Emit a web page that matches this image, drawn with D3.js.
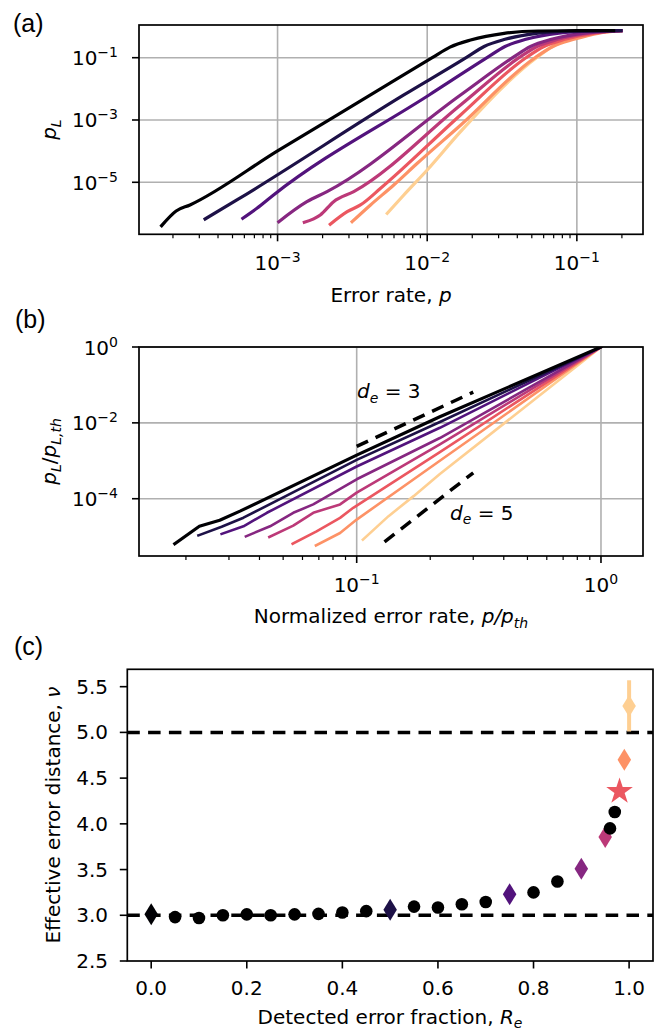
<!DOCTYPE html>
<html>
<head>
<meta charset="utf-8">
<title>Logical error rate and effective distance</title>
<script src="https://d3js.org/d3.v7.min.js"></script>
<style>
  body { margin: 0; background: #fff; }
  text { font-family: "DejaVu Sans", sans-serif; }
</style>
</head>
<body>
<script>
// (a) logical error rate p_L against error rate p, one curve per detected fraction
const aP = [
  [1.68e-4, 2.10e-4, 2.60e-4, 1.00e-3, 4.18e-3, 1.08e-2, 1.42e-2, 1.95e-2, 3.27e-2, 5.46e-2, 0.100, 0.176],
  [3.28e-4, 5.35e-4, 6.98e-3, 1.82e-2, 2.40e-2, 3.31e-2, 5.50e-2, 9.12e-2, 0.197],
  [5.86e-4, 7.28e-4, 9.40e-4, 1.03e-2, 2.51e-2, 3.31e-2, 4.57e-2, 7.59e-2, 0.126, 0.197],
  [1.02e-3, 1.57e-3, 2.14e-3, 1.67e-2, 3.72e-2, 4.90e-2, 6.76e-2, 0.112, 0.158, 0.197],
  [1.51e-3, 1.93e-3, 2.37e-3, 3.23e-3, 1.67e-2, 4.11e-2, 5.42e-2, 7.48e-2, 0.120, 0.158, 0.197],
  [2.25e-3, 2.92e-3, 3.58e-3, 4.88e-3, 1.67e-2, 4.57e-2, 6.03e-2, 8.32e-2, 0.132, 0.158, 0.197],
  [3.15e-3, 4.18e-3, 5.98e-3, 8.59e-3, 1.67e-2, 5.25e-2, 6.92e-2, 9.55e-2, 0.141, 0.158, 0.197],
  [5.41e-3, 6.98e-3, 1.00e-2, 1.67e-2, 5.37e-2, 7.08e-2, 9.55e-2, 0.141, 0.197]
];
const aPL = [
  [4.05e-7, 1.20e-6, 1.87e-6, 1.02e-4, 6.35e-3, 0.100, 0.219, 0.370, 0.605, 0.719, 0.736, 0.738],
  [6.64e-7, 2.70e-6, 6.35e-3, 0.100, 0.229, 0.389, 0.617, 0.716, 0.738],
  [6.98e-7, 1.46e-6, 3.91e-6, 6.35e-3, 0.100, 0.229, 0.389, 0.617, 0.716, 0.738],
  [5.43e-7, 2.38e-6, 4.99e-6, 6.35e-3, 0.100, 0.229, 0.389, 0.617, 0.700, 0.738],
  [5.20e-7, 8.91e-7, 2.38e-6, 4.99e-6, 3.03e-3, 0.100, 0.229, 0.389, 0.617, 0.700, 0.738],
  [4.49e-7, 1.14e-6, 1.87e-6, 6.41e-6, 1.45e-3, 0.100, 0.229, 0.389, 0.617, 0.690, 0.738],
  [5.43e-7, 1.87e-6, 8.18e-6, 4.07e-5, 6.76e-4, 0.100, 0.229, 0.389, 0.617, 0.670, 0.738],
  [1.01e-6, 3.91e-6, 2.48e-5, 4.21e-4, 0.100, 0.251, 0.427, 0.631, 0.738]
];

// (b) the same curves normalised by the threshold
const bX = [
  [1.80e-2, 2.27e-2, 2.75e-2, 3.33e-2, 0.100, 0.219, 1.0],
  [2.25e-2, 2.80e-2, 3.44e-2, 0.100, 0.219, 1.0],
  [2.80e-2, 3.44e-2, 4.29e-2, 0.100, 0.219, 1.0],
  [3.52e-2, 4.42e-2, 5.50e-2, 6.64e-2, 0.100, 0.219, 1.0],
  [4.39e-2, 5.50e-2, 6.64e-2, 8.55e-2, 0.100, 0.219, 1.0],
  [5.47e-2, 6.85e-2, 8.55e-2, 9.68e-2, 0.219, 1.0],
  [6.81e-2, 8.55e-2, 0.100, 0.219, 1.0],
  [0.106, 0.135, 0.171, 0.219, 1.0]
];
const bY = [
  [6.52e-6, 1.88e-5, 2.71e-5, 4.70e-5, 1.41e-3, 1.45e-2, 1.0],
  [1.08e-5, 1.82e-5, 3.16e-5, 1.06e-3, 1.05e-2, 1.0],
  [1.18e-5, 1.88e-5, 4.26e-5, 7.08e-4, 7.41e-3, 1.0],
  [1.02e-5, 1.88e-5, 4.26e-5, 7.08e-5, 3.26e-4, 3.98e-3, 1.0],
  [9.82e-6, 1.96e-5, 4.26e-5, 7.08e-5, 1.45e-4, 2.69e-3, 1.0],
  [6.52e-6, 1.38e-5, 3.13e-5, 5.77e-5, 1.70e-3, 1.0],
  [5.87e-6, 1.25e-5, 2.82e-5, 1.00e-3, 1.0],
  [8.32e-6, 3.47e-5, 1.17e-4, 4.47e-4, 1.0]
];
const guide3X = [0.1, 0.3], guide3Y = [2.39e-3, 6.45e-2];
const guide5X = [0.13, 0.3], guide5Y = [7.3e-6, 4.83e-4];

// (c) effective distance against detected error fraction
const cR   = [0, 0.05, 0.10, 0.15, 0.20, 0.25, 0.30, 0.35, 0.40, 0.45, 0.50, 0.55, 0.60,
              0.65, 0.70, 0.75, 0.80, 0.85, 0.90, 0.95, 0.96, 0.97, 0.98, 0.99, 1.00];
const cNu  = [3.01, 2.98, 2.97, 3.00, 3.01, 3.00, 3.01, 3.015, 3.03, 3.045, 3.06, 3.095, 3.085,
              3.12, 3.145, 3.23, 3.25, 3.37, 3.51, 3.855, 3.95, 4.13, 4.355, 4.70, 5.29];
const cErr = [0, 0, 0, 0, 0, 0, 0, 0, 0, 0, 0, 0, 0,
              0, 0, 0, 0, 0, 0, 0, 0, 0, 0, 0, 0.28];
const cMark = ["d", "o", "o", "o", "o", "o", "o", "o", "o", "o", "d", "o", "o",
               "o", "o", "d", "o", "o", "d", "d", "o", "o", "*", "d", "d"];
const cRefLines = [3, 5];

const aXTicks = [1e-3, 1e-2, 1e-1];
const aYTicks = [1e-1, 1e-3, 1e-5];
const bXTicks = [1e-1, 1];
const bYTicks = [1, 1e-2, 1e-4];
const cXTicks = [0, 0.2, 0.4, 0.6, 0.8, 1.0];
const cYTicks = [2.5, 3.0, 3.5, 4.0, 4.5, 5.0, 5.5];

var w = 665, h = 1030;
var svg = d3.select("body").append("svg").attr("width", w).attr("height", h);
var defs = svg.append("defs");

function color(i) { return d3.interpolateMagma(i * 0.9 / 7); }

function clip(id, x, y) {
  var xr = x.range(), yr = y.range();
  defs.append("clipPath").attr("id", id).append("rect")
    .attr("x", xr[0]).attr("y", yr[1]).attr("width", xr[1] - xr[0]).attr("height", yr[0] - yr[1]);
}

function frame(x, y) {
  var xr = x.range(), yr = y.range();
  svg.append("rect").attr("x", xr[0]).attr("y", yr[1])
    .attr("width", xr[1] - xr[0]).attr("height", yr[0] - yr[1])
    .attr("fill", "none").attr("stroke", "#000").attr("stroke-width", 1.7);
}

function grid(x, y, xv, yv) {
  var xr = x.range(), yr = y.range();
  var g = svg.append("g").attr("stroke", "#b0b0b0").attr("stroke-width", 1.6);
  g.selectAll(null).data(xv).enter().append("line")
    .attr("x1", d => x(d)).attr("x2", d => x(d)).attr("y1", yr[0]).attr("y2", yr[1]);
  g.selectAll(null).data(yv).enter().append("line")
    .attr("x1", xr[0]).attr("x2", xr[1]).attr("y1", d => y(d)).attr("y2", d => y(d));
}

function ticksX(x, y0, vals, len, sw) {
  svg.append("g").selectAll(null).data(vals).enter().append("line")
    .attr("x1", d => x(d)).attr("x2", d => x(d)).attr("y1", y0).attr("y2", y0 + len)
    .attr("stroke", "#000").attr("stroke-width", sw);
}
function ticksY(y, x0, vals, len, sw) {
  svg.append("g").selectAll(null).data(vals).enter().append("line")
    .attr("x1", x0).attr("x2", x0 - len).attr("y1", d => y(d)).attr("y2", d => y(d))
    .attr("stroke", "#000").attr("stroke-width", sw);
}

function minors(x) {
  var d = x.domain();
  return x.ticks().filter(v => v > d[0] && v < d[1] &&
    Math.abs(Math.log10(v) - Math.round(Math.log10(v))) > 1e-6);
}

function logLabel(x, y, v, anchor) {
  var e = Math.round(Math.log10(v));
  var t = svg.append("text").attr("x", x).attr("y", y)
    .attr("text-anchor", anchor).attr("font-size", 20);
  t.append("tspan").text("10");
  t.append("tspan").attr("dy", -8).attr("font-size", 14)
    .text(e < 0 ? "\u2212" + (-e) : String(e));
}

// rich text: parts with italic / subscript
function rich(x, y, parts, anchor, rotate) {
  var t = svg.append("text").attr("font-size", 20).attr("text-anchor", anchor || "middle");
  if (rotate) t.attr("transform", "translate(" + x + "," + y + ") rotate(-90)");
  else t.attr("x", x).attr("y", y);
  var shift = 0;
  parts.forEach(function(p) {
    var s = t.append("tspan").text(p.t);
    var want = p.sub ? 4.5 : 0;
    if (want !== shift) { s.attr("dy", want - shift); shift = want; }
    if (p.sub) s.attr("font-size", 14);
    if (p.it) s.attr("font-style", "italic");
  });
  return t;
}

function letter(x, y, s) {
  svg.append("text").attr("x", x).attr("y", y).attr("font-size", 25)
    .style("font-family", "'Liberation Sans', Arial, sans-serif").text(s);
}

// ---------------- panel (a) ----------------
var xA = d3.scaleLog().domain([1.186e-4, 0.2767]).range([139, 643]);
var yA = d3.scaleLog().domain([2.138e-7, 1.122]).range([234.3, 25]);
clip("clipA", xA, yA);
grid(xA, yA, aXTicks, aYTicks);

var lineA = d3.line().x(d => xA(d[0])).y(d => yA(d[1])).curve(d3.curveMonotoneX);
var gA = svg.append("g").attr("clip-path", "url(#clipA)");
for (var i = aP.length - 1; i >= 0; i--) {
  gA.append("path").datum(d3.zip(aP[i], aPL[i])).attr("d", lineA)
    .attr("fill", "none").attr("stroke", color(i)).attr("stroke-width", 3.2)
    .attr("stroke-linejoin", "round").attr("stroke-linecap", "square");
}
frame(xA, yA);
ticksX(xA, 234.3, aXTicks, 7, 1.6);
ticksX(xA, 234.3, minors(xA), 4, 1.2);
ticksY(yA, 139, aYTicks, 7, 1.6);
aXTicks.forEach(v => logLabel(xA(v), 270, v, "middle"));
aYTicks.forEach(v => logLabel(118, yA(v) + 7.5, v, "end"));
rich(391, 301.5, [{t: "Error rate, "}, {t: "p", it: true}]);
rich(56, 129.6, [{t: "p", it: true}, {t: "L", it: true, sub: true}], "middle", true);
letter(13, 32, "(a)");

// ---------------- panel (b) ----------------
var xB = d3.scaleLog().domain([1.285e-2, 1.486]).range([139, 643]);
var yB = d3.scaleLog().domain([3.09e-6, 1]).range([556, 347]);
clip("clipB", xB, yB);
grid(xB, yB, bXTicks, bYTicks);

var lineB = d3.line().x(d => xB(d[0])).y(d => yB(d[1]));
var gB = svg.append("g").attr("clip-path", "url(#clipB)");
for (var j = bX.length - 1; j >= 0; j--) {
  gB.append("path").datum(d3.zip(bX[j], bY[j])).attr("d", lineB)
    .attr("fill", "none").attr("stroke", color(j)).attr("stroke-width", j === 0 ? 3.2 : 2.6)
    .attr("stroke-linejoin", "round").attr("stroke-linecap", "square");
}
[[guide3X, guide3Y], [guide5X, guide5Y]].forEach(function(gd) {
  gB.append("path").datum(d3.zip(gd[0], gd[1])).attr("d", lineB)
    .attr("fill", "none").attr("stroke", "#000").attr("stroke-width", 3.5)
    .attr("stroke-dasharray", "12.5,8.3");
});
rich(357, 398, [{t: "d", it: true}, {t: "e", it: true, sub: true}, {t: " = 3"}], "start");
rich(450, 519.5, [{t: "d", it: true}, {t: "e", it: true, sub: true}, {t: " = 5"}], "start");
frame(xB, yB);
ticksX(xB, 556, bXTicks, 7, 1.6);
ticksX(xB, 556, minors(xB), 4, 1.2);
ticksY(yB, 139, bYTicks, 7, 1.6);
bXTicks.forEach(v => logLabel(xB(v), 591.5, v, "middle"));
bYTicks.forEach(v => logLabel(118, yB(v) + 7.5, v, "end"));
rich(391, 623, [{t: "Normalized error rate, "}, {t: "p/p", it: true}, {t: "th", it: true, sub: true}]);
rich(56, 451.5, [{t: "p", it: true}, {t: "L", it: true, sub: true}, {t: "/"},
                 {t: "p", it: true}, {t: "L,th", it: true, sub: true}], "middle", true);
letter(15, 328, "(b)");

// ---------------- panel (c) ----------------
var xC = d3.scaleLinear().domain([-0.05, 1.05]).range([127.3, 653]);
var yC = d3.scaleLinear().domain([2.5, 5.69]).range([961, 669.3]);

svg.append("g").selectAll(null).data(cRefLines).enter().append("line")
  .attr("x1", xC.range()[0]).attr("x2", xC.range()[1])
  .attr("y1", d => yC(d)).attr("y2", d => yC(d))
  .attr("stroke", "#000").attr("stroke-width", 3.5).attr("stroke-dasharray", "12.5,8.3");

var pts = cR.map((r, k) => ({r: r, nu: cNu[k], err: cErr[k], m: cMark[k]}));
var ci = 0;
pts.forEach(function(p) { p.c = p.m === "o" ? "#000" : color(ci++); });

svg.append("g").selectAll(null).data(pts.filter(p => p.err > 0)).enter().append("line")
  .attr("x1", d => xC(d.r)).attr("x2", d => xC(d.r))
  .attr("y1", d => yC(d.nu - d.err)).attr("y2", d => yC(d.nu + d.err))
  .attr("stroke", d => d.c).attr("stroke-width", 4);

var diamond = "M0,-11L6.75,0L0,11L-6.75,0Z";
var star = d3.symbol().type(d3.symbolStar).size(220)();
svg.append("g").selectAll(null).data(pts.filter(p => p.m !== "o")).enter().append("path")
  .attr("transform", d => "translate(" + xC(d.r) + "," + yC(d.nu) + ")")
  .attr("d", d => d.m === "*" ? star : diamond)
  .attr("fill", d => d.c);
svg.append("g").selectAll(null).data(pts.filter(p => p.m === "o")).enter().append("circle")
  .attr("cx", d => xC(d.r)).attr("cy", d => yC(d.nu)).attr("r", 6.3).attr("fill", "#000");

frame(xC, yC);
ticksX(xC, 961, cXTicks, 7.5, 1.6);
ticksY(yC, 127.3, cYTicks, 7.5, 1.6);
svg.append("g").selectAll(null).data(cXTicks).enter().append("text")
  .attr("x", d => xC(d)).attr("y", 995).attr("text-anchor", "middle").attr("font-size", 20)
  .text(d3.format(".1f"));
svg.append("g").selectAll(null).data(cYTicks).enter().append("text")
  .attr("x", 108).attr("y", d => yC(d) + 7).attr("text-anchor", "end").attr("font-size", 20)
  .text(d3.format(".1f"));
rich(390, 1023.5, [{t: "Detected error fraction, "}, {t: "R", it: true}, {t: "e", it: true, sub: true}]);
rich(59.5, 815, [{t: "Effective error distance, "}, {t: "\u03bd", it: true}], "middle", true);
letter(14, 655, "(c)");
</script>
</body>
</html>
